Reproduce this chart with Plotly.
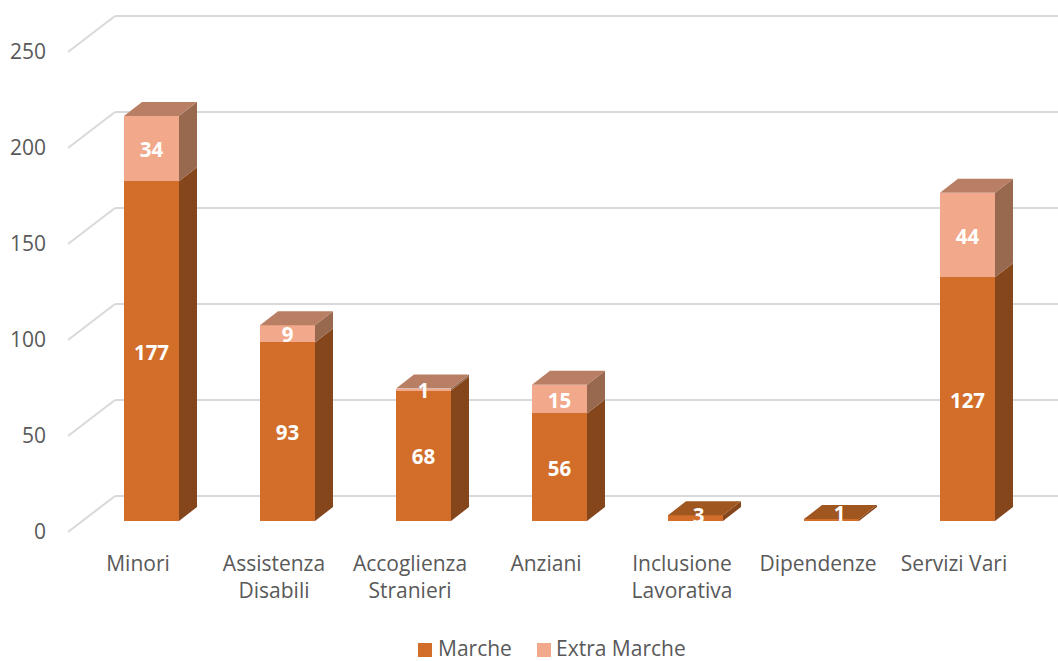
import plotly.graph_objects as go

# ---- data ----
categories = ["Minori", "Assistenza<br>Disabili", "Accoglienza<br>Stranieri", "Anziani",
              "Inclusione<br>Lavorativa", "Dipendenze", "Servizi Vari"]
marche = [177, 93, 68, 56, 3, 1, 127]
extra_marche = [34, 9, 1, 15, 0, 0, 44]
series_names = ["Marche", "Extra Marche"]
y_ticks = [0, 50, 100, 150, 200, 250]

# ---- pseudo-3D geometry, in axis units ----
PX_X, PX_Y = 136.0, 1.92       # pixels per category / per value
BAR_W = 55 / PX_X
BAR_DX, BAR_DY = 18 / PX_X, 14 / PX_Y      # depth of a bar
WALL_DX = 47 / PX_X
FRONT_Y = -11 / PX_Y           # front edge of floor relative to bar base
BACK_Y = 25 / PX_Y             # back edge of floor relative to bar base
LABEL_SHIFT = 13.5 / PX_X
TEXT_DROP = 3.5 / PX_Y         # optical centring of data labels
TINY_NUDGE = {4: (3 / PX_X, 2.1), 5: (8 / PX_X, 4.2)}  # labels of the flat bars sit off-centre
X0, X1 = -83.5 / PX_X, 906.5 / PX_X
Y0, Y1 = -140 / PX_Y, 521 / PX_Y
XAXIS_POS = 116 / 661          # height of the category axis line on the page
LEGEND_Y = -129 / PX_Y
LEGEND_TEXT_Y = -126.5 / PX_Y
LEGEND_SWATCH_X = [273.5 / PX_X, 392.5 / PX_X]
LEGEND_TEXT_X = [285.5 / PX_X, 403.5 / PX_X]
FONT = "Open Sans"
TXT = "#595959"
GRID = "#D9D9D9"
C_M, C_E = "#D26E2A", "#F2A88A"
C_M_SIDE, C_E_SIDE = "#84461A", "#98684F"
C_M_TOP, C_E_TOP = "#A0561F", "#B87F64"

idx = list(range(len(categories)))
fig = go.Figure()

fig.add_bar(x=idx, y=marche, width=BAR_W, name=series_names[0], marker=dict(color=C_M, line_width=0))
fig.add_bar(x=idx, y=extra_marche, width=BAR_W, name=series_names[1], marker=dict(color=C_E, line_width=0))


def add_faces(polys, color):
    xs, ys = [], []
    for p in polys:
        xs += [q[0] for q in p] + [p[0][0], None]
        ys += [q[1] for q in p] + [p[0][1], None]
    fig.add_scatter(x=xs, y=ys, mode="lines", fill="toself", fillcolor=color,
                    line=dict(width=0, color=color), hoverinfo="skip")


side_m, side_e, top_m, top_e = [], [], [], []
for i, m, e in zip(idx, marche, extra_marche):
    l, r = i - BAR_W / 2, i + BAR_W / 2
    side_m.append([(r, 0), (r + BAR_DX, BAR_DY), (r + BAR_DX, m + BAR_DY), (r, m)])
    t = m + e
    if e:
        side_e.append([(r, m), (r + BAR_DX, m + BAR_DY), (r + BAR_DX, t + BAR_DY), (r, t)])
    (top_e if e else top_m).append([(l, t), (l + BAR_DX, t + BAR_DY), (r + BAR_DX, t + BAR_DY), (r, t)])
add_faces(side_m, C_M_SIDE)
add_faces(side_e, C_E_SIDE)
add_faces(top_m, C_M_TOP)
add_faces(top_e, C_E_TOP)

# data labels
lx, ly, lt = [], [], []
for i, m, e in zip(idx, marche, extra_marche):
    nx, ny = TINY_NUDGE.get(i, (0, 0))
    lx.append(i + nx); ly.append(m / 2 + ny - TEXT_DROP); lt.append(str(m))
    if e:
        lx.append(i); ly.append(m + e / 2 - TEXT_DROP); lt.append(str(e))
fig.add_scatter(x=lx, y=ly, text=lt, mode="text", hoverinfo="skip",
                textposition="middle center",
                textfont=dict(family=FONT, size=20.5, color="white", weight="bold"))

# legend swatches and names (drawn so swatch size and spacing fit the picture)
fig.add_scatter(x=LEGEND_SWATCH_X, y=[LEGEND_Y, LEGEND_Y], mode="markers",
                hoverinfo="skip",
                marker=dict(symbol="square", size=14, color=[C_M, C_E], line_width=0))
annotations = [dict(x=x, y=LEGEND_TEXT_Y, xref="x", yref="y", text=name, showarrow=False,
                    xanchor="left", yanchor="middle", borderpad=0,
                    font=dict(family=FONT, size=21, color=TXT))
               for x, name in zip(LEGEND_TEXT_X, series_names)]

# pseudo-3D gridlines
shapes = []
for t in y_ticks:
    ln = dict(color=GRID, width=2)
    shapes.append(dict(type="line", layer="below", xref="x", yref="y", line=ln,
                       x0=X0, y0=t + FRONT_Y, x1=X0 + WALL_DX, y1=t + BACK_Y))
    shapes.append(dict(type="line", layer="below", xref="x", yref="y", line=ln,
                       x0=X0 + WALL_DX, y0=t + BACK_Y, x1=X1, y1=t + BACK_Y))

fig.update_layout(
    width=1058, height=661, autosize=False, showlegend=False,
    margin=dict(l=68, r=0, t=0, b=0, autoexpand=False),
    paper_bgcolor="white", plot_bgcolor="white",
    barmode="stack", shapes=shapes, annotations=annotations,
    font=dict(family=FONT, size=21, color=TXT),
    xaxis=dict(range=[X0, X1], showgrid=False, zeroline=False, showline=False, automargin=False,
               anchor="free", position=XAXIS_POS,
               tickmode="array", tickvals=[i - LABEL_SHIFT for i in idx], ticktext=categories,
               ticks="", ticklabelstandoff=4, tickangle=0,
               tickfont=dict(family=FONT, size=21, color=TXT)),
    yaxis=dict(range=[Y0, Y1], showgrid=False, zeroline=False, showline=False, automargin=False,
               tickmode="array", tickvals=[t + FRONT_Y for t in y_ticks], ticktext=[str(t) for t in y_ticks],
               ticks="", ticklabelstandoff=21,
               tickfont=dict(family=FONT, size=21, color=TXT)),
)
fig.write_html("out.html", config=dict(displayModeBar=False),
               post_script="document.body.style.margin='0';")
